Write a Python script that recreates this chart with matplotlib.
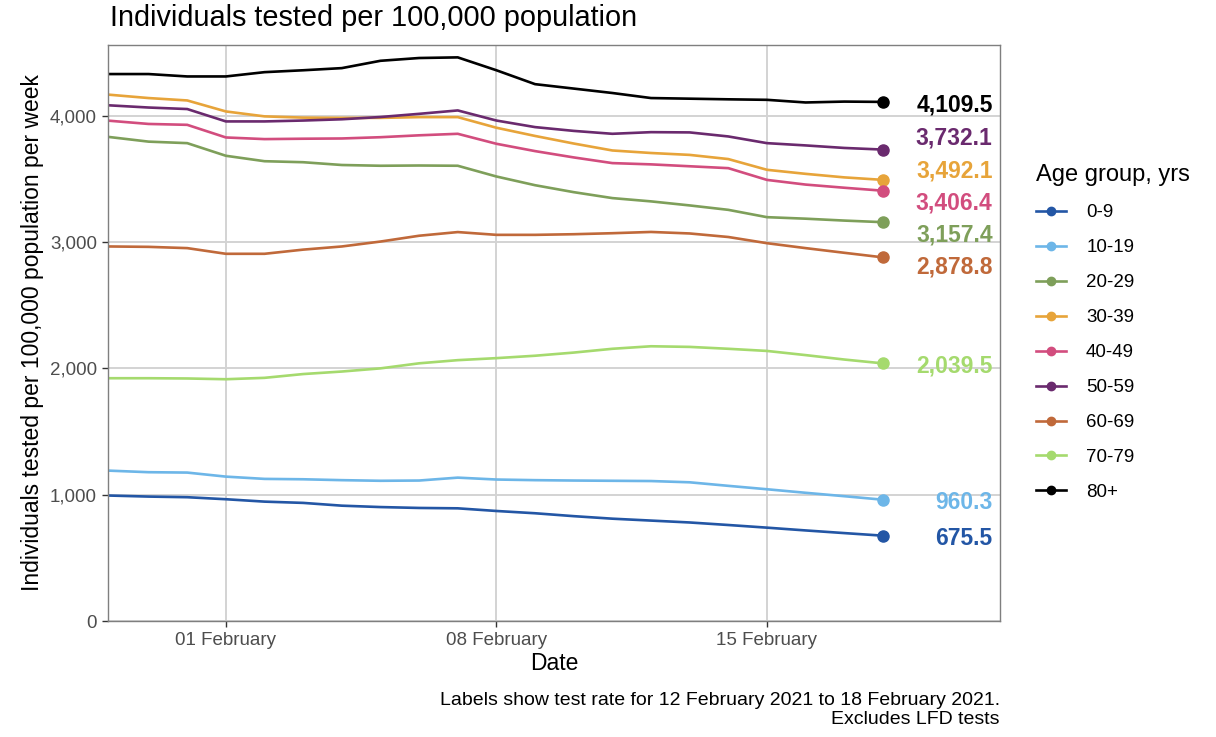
import numpy as np
import matplotlib
matplotlib.use("Agg")
import matplotlib.pyplot as plt
import matplotlib.dates as mdates
from matplotlib.lines import Line2D

plt.rcParams['font.family'] = ['Liberation Sans', 'DejaVu Sans']

dates = np.arange(np.datetime64('2021-01-29'), np.datetime64('2021-02-19'))

age_groups = ['0-9', '10-19', '20-29', '30-39', '40-49', '50-59', '60-69', '70-79', '80+']
colors = ['#2356A5', '#6DB6E8', '#7E9F5A', '#E7A43A', '#D24D7E', '#6A2A6E',
          '#C0693A', '#A5DA6E', '#000000']

rate_0_9 = [993, 985, 980, 964, 945, 935, 913, 902, 895, 892, 871,
            853, 830, 810, 795, 780, 760, 739, 717, 696, 675.5]
rate_10_19 = [1190, 1178, 1175, 1143, 1125, 1122, 1115, 1110, 1112, 1135, 1120,
              1115, 1112, 1110, 1108, 1098, 1070, 1043, 1015, 988, 960.3]
rate_20_29 = [3831, 3795, 3783, 3683, 3640, 3632, 3610, 3604, 3606, 3604, 3519,
              3450, 3395, 3348, 3322, 3290, 3255, 3197, 3185, 3170, 3157.4]
rate_30_39 = [4166, 4140, 4121, 4034, 3995, 3985, 3983, 3983, 3989, 3989, 3905,
              3840, 3780, 3725, 3705, 3690, 3657, 3572, 3540, 3512, 3492.1]
rate_40_49 = [3960, 3935, 3928, 3828, 3815, 3818, 3820, 3830, 3845, 3857, 3778,
              3720, 3670, 3625, 3615, 3600, 3585, 3492, 3455, 3430, 3406.4]
rate_50_59 = [4082, 4065, 4053, 3955, 3955, 3962, 3972, 3990, 4015, 4042, 3962,
              3910, 3880, 3857, 3870, 3868, 3836, 3783, 3765, 3745, 3732.1]
rate_60_69 = [2965, 2962, 2952, 2907, 2907, 2940, 2965, 3004, 3050, 3079, 3057,
              3057, 3062, 3070, 3080, 3068, 3040, 2991, 2952, 2915, 2878.8]
rate_70_79 = [1922, 1922, 1920, 1914, 1925, 1955, 1975, 2000, 2040, 2065, 2081,
              2100, 2125, 2155, 2175, 2170, 2155, 2138, 2105, 2070, 2039.5]
rate_80 = [4330, 4330, 4311, 4311, 4345, 4360, 4377, 4435, 4457, 4462, 4360,
           4250, 4215, 4180, 4140, 4135, 4130, 4126, 4105, 4112, 4109.5]

series = [rate_0_9, rate_10_19, rate_20_29, rate_30_39, rate_40_49,
          rate_50_59, rate_60_69, rate_70_79, rate_80]


def repel(values, gap):
    # spread label positions so they are at least `gap` apart
    order = np.argsort(values)
    pos = np.array(values, dtype=float)[order]
    for _ in range(200):
        moved = False
        for i in range(1, len(pos)):
            d = pos[i] - pos[i - 1]
            if d < gap:
                shift = (gap - d) / 2
                pos[i] += shift
                pos[i - 1] -= shift
                moved = True
        if not moved:
            break
    out = np.empty_like(pos)
    out[order] = pos
    return out


fig = plt.figure(figsize=(12.16, 7.37), dpi=100)
ax = fig.add_axes([108 / 1216, 1 - 621 / 737, 892 / 1216, 576 / 737])

x = mdates.date2num(dates.astype('datetime64[D]').astype(object))
for vals, col in zip(series, colors):
    ax.plot(x, vals, color=col, lw=1.9, solid_joinstyle='round')
    ax.plot(x[-1], vals[-1], 'o', color=col, ms=8)

last_vals = [s[-1] for s in series]
label_y = repel(last_vals, 255)
for v, ly, col in zip(last_vals, label_y, colors):
    ax.annotate(f"{v:,.1f}", xy=(x[-1], ly), xytext=(79, -2),
                textcoords='offset points', ha='right', va='center',
                color=col, fontsize=16.5, fontweight='bold')

ax.set_xlim(x[0] - 0.05, x[-1] + 3.03)
ax.set_ylim(0, 4560)
ax.set_yticks([0, 1000, 2000, 3000, 4000])
ax.yaxis.set_major_formatter(matplotlib.ticker.FuncFormatter(lambda v, p: f"{int(v):,}"))
tick_dates = [np.datetime64('2021-02-01'), np.datetime64('2021-02-08'), np.datetime64('2021-02-15')]
ax.set_xticks(mdates.date2num([d.astype(object) for d in tick_dates]))
ax.set_xticklabels(['01 February', '08 February', '15 February'])

ax.grid(True, color='#D3D3D3', lw=1.4)
ax.set_axisbelow(True)
for sp in ax.spines.values():
    sp.set_color('#7F7F7F')
    sp.set_linewidth(1.0)
ax.tick_params(axis='both', labelsize=13.5, labelcolor='#4D4D4D', color='#333333',
               length=4, width=1, pad=4)

ax.set_xlabel('Date', fontsize=16.5, labelpad=2)
ax.set_ylabel('Individuals tested per 100,000 population per week', fontsize=16.5, labelpad=4)
fig.text(110 / 1216, 1 - 18 / 737, 'Individuals tested per 100,000 population',
         fontsize=20.8, va='center', ha='left')

fig.text(1000 / 1216, 1 - 710 / 737,
         'Labels show test rate for 12 February 2021 to 18 February 2021.\nExcludes LFD tests',
         fontsize=14, ha='right', va='center', multialignment='right', linespacing=1.1)

handles = [Line2D([0], [0], color=c, lw=1.9, marker='o', ms=6) for c in colors]
leg = fig.legend(handles, age_groups, title='Age group, yrs', loc='upper left',
                 bbox_to_anchor=(1028 / 1216, 1 - 157 / 737), frameon=False,
                 fontsize=13.5, title_fontsize=17, handlelength=1.6,
                 labelspacing=0.95, handletextpad=1.1, borderaxespad=0)
leg._legend_box.align = 'left'

fig.savefig('out.png', dpi=100)
